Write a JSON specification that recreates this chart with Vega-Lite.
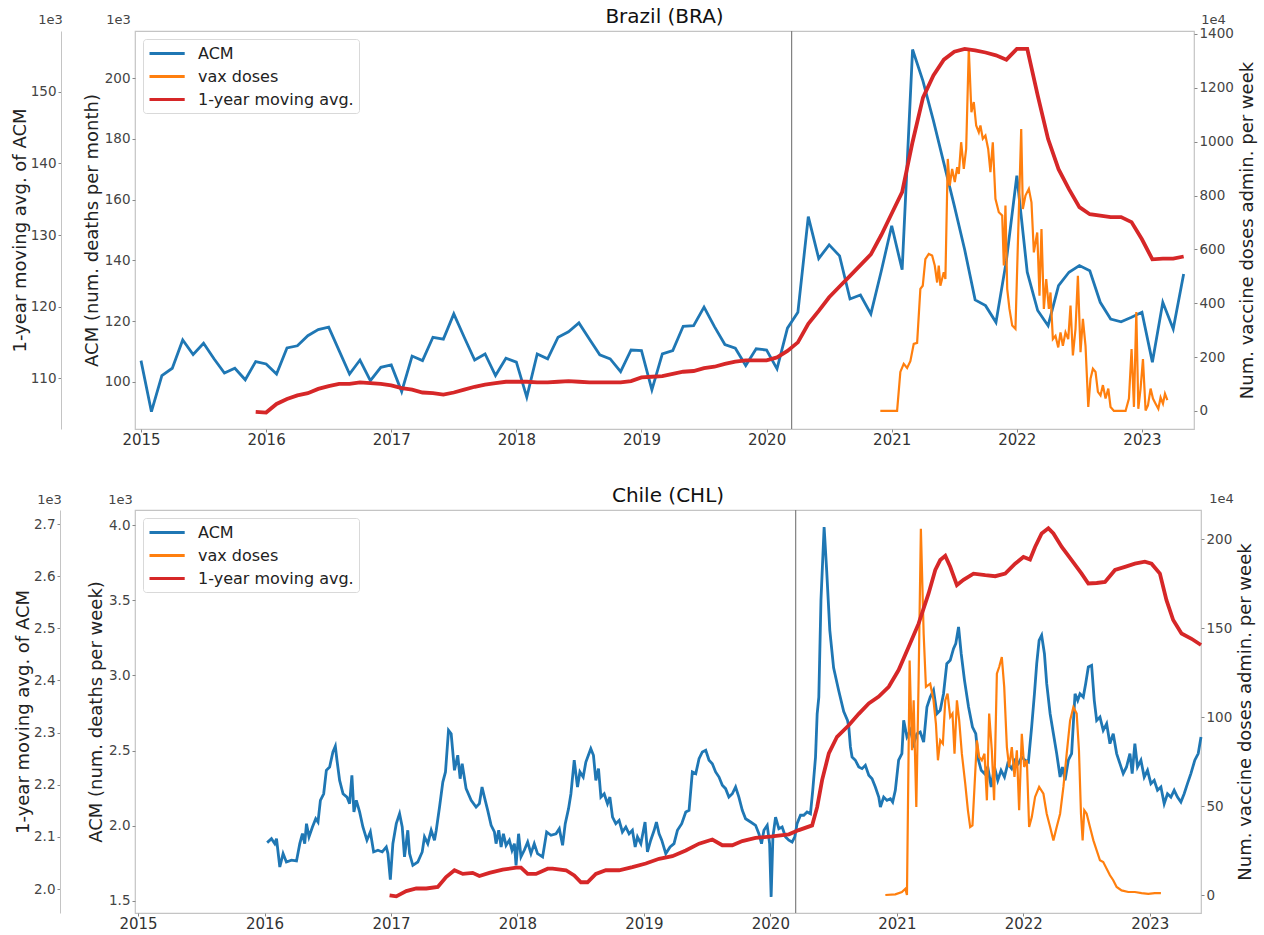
{
  "$schema": "https://vega.github.io/schema/vega-lite/v6.json",
  "background": "white",
  "padding": {"left": 10, "top": 6, "right": 4, "bottom": 0},
  "config": {
    "font": "DejaVu Sans",
    "view": {"stroke": "#c4c4c4", "strokeWidth": 1.2},
    "axis": {"grid": false, "labelColor": "#444", "titleColor": "#222", "titleFontWeight": "normal", "tickColor": "#888", "tickSize": 3, "labelPadding": 2, "domainColor": "#c4c4c4", "labelFontSize": 13.5, "titleFontSize": 18, "labelFlush": false, "labelOverlap": false},
    "title": {"fontSize": 20, "fontWeight": "normal", "color": "#111", "offset": -14, "frame": "group"},
    "legend": {"orient": "top-left", "offset": 8, "padding": 5, "strokeColor": "#d9d9d9", "fillColor": "white", "cornerRadius": 3, "labelFontSize": 16, "labelColor": "#222", "symbolSize": 256, "symbolStrokeWidth": 3, "labelOffset": 31, "rowPadding": 5}
  },
  "datasets": {
    "bra_acm": [
      {"year": 2015, "value": 107.0}, {"year": 2015.0833, "value": 90.2}, {"year": 2015.1667, "value": 102.1}, {"year": 2015.25, "value": 104.5},
      {"year": 2015.3333, "value": 113.8}, {"year": 2015.4167, "value": 109.0}, {"year": 2015.5, "value": 112.7}, {"year": 2015.5833, "value": 107.6},
      {"year": 2015.6667, "value": 102.9}, {"year": 2015.75, "value": 104.5}, {"year": 2015.8333, "value": 100.7}, {"year": 2015.9167, "value": 106.7},
      {"year": 2016, "value": 105.9}, {"year": 2016.0833, "value": 102.6}, {"year": 2016.1667, "value": 111.2}, {"year": 2016.25, "value": 111.9},
      {"year": 2016.3333, "value": 115.2}, {"year": 2016.4167, "value": 117.2}, {"year": 2016.5, "value": 118.0}, {"year": 2016.5833, "value": 110.3},
      {"year": 2016.6667, "value": 102.6}, {"year": 2016.75, "value": 107.2}, {"year": 2016.8333, "value": 100.4}, {"year": 2016.9167, "value": 104.8},
      {"year": 2017, "value": 105.6}, {"year": 2017.0833, "value": 96.8}, {"year": 2017.1667, "value": 108.5}, {"year": 2017.25, "value": 107.0},
      {"year": 2017.3333, "value": 114.7}, {"year": 2017.4167, "value": 114.1}, {"year": 2017.5, "value": 122.4}, {"year": 2017.5833, "value": 114.7},
      {"year": 2017.6667, "value": 107.2}, {"year": 2017.75, "value": 109.2}, {"year": 2017.8333, "value": 102.1}, {"year": 2017.9167, "value": 107.8},
      {"year": 2018, "value": 106.5}, {"year": 2018.0833, "value": 95.0}, {"year": 2018.1667, "value": 109.2}, {"year": 2018.25, "value": 107.6},
      {"year": 2018.3333, "value": 114.7}, {"year": 2018.4167, "value": 116.5}, {"year": 2018.5, "value": 119.4}, {"year": 2018.5833, "value": 114.1},
      {"year": 2018.6667, "value": 108.9}, {"year": 2018.75, "value": 107.6}, {"year": 2018.8333, "value": 103.4}, {"year": 2018.9167, "value": 110.5},
      {"year": 2019, "value": 110.3}, {"year": 2019.0833, "value": 97.4}, {"year": 2019.1667, "value": 109.2}, {"year": 2019.25, "value": 110.3},
      {"year": 2019.3333, "value": 118.3}, {"year": 2019.4167, "value": 118.5}, {"year": 2019.5, "value": 124.6}, {"year": 2019.5833, "value": 118.2},
      {"year": 2019.6667, "value": 112.3}, {"year": 2019.75, "value": 111.1}, {"year": 2019.8333, "value": 105.4}, {"year": 2019.9167, "value": 110.9},
      {"year": 2020, "value": 110.5}, {"year": 2020.0833, "value": 104.3}, {"year": 2020.1667, "value": 117.7}, {"year": 2020.25, "value": 122.9},
      {"year": 2020.3333, "value": 154.4}, {"year": 2020.4167, "value": 140.6}, {"year": 2020.5, "value": 145.1}, {"year": 2020.5833, "value": 141.5},
      {"year": 2020.6667, "value": 127.3}, {"year": 2020.75, "value": 128.6}, {"year": 2020.8333, "value": 122.4}, {"year": 2020.9167, "value": 136.5},
      {"year": 2021, "value": 151.4}, {"year": 2021.0833, "value": 136.9}, {"year": 2021.1667, "value": 209.4}, {"year": 2021.25, "value": 199.0},
      {"year": 2021.3333, "value": 186.0}, {"year": 2021.4167, "value": 172.0}, {"year": 2021.5, "value": 158.0}, {"year": 2021.5833, "value": 143.5},
      {"year": 2021.6667, "value": 127.0}, {"year": 2021.75, "value": 125.1}, {"year": 2021.8333, "value": 119.6}, {"year": 2021.9167, "value": 140.0},
      {"year": 2022, "value": 167.9}, {"year": 2022.0833, "value": 136.1}, {"year": 2022.1667, "value": 123.5}, {"year": 2022.25, "value": 118.5},
      {"year": 2022.3333, "value": 131.7}, {"year": 2022.4167, "value": 136.1}, {"year": 2022.5, "value": 138.3}, {"year": 2022.5833, "value": 136.6},
      {"year": 2022.6667, "value": 126.2}, {"year": 2022.75, "value": 120.7}, {"year": 2022.8333, "value": 119.8}, {"year": 2022.9167, "value": 121.3},
      {"year": 2023, "value": 122.9}, {"year": 2023.0833, "value": 106.5}, {"year": 2023.1667, "value": 126.2}, {"year": 2023.25, "value": 117.4},
      {"year": 2023.3333, "value": 135.5}
    ],
    "bra_avg": [
      {"year": 2015.9167, "value": 105.3}, {"year": 2016, "value": 105.2}, {"year": 2016.0833, "value": 106.4}, {"year": 2016.1667, "value": 107.1},
      {"year": 2016.25, "value": 107.6}, {"year": 2016.3333, "value": 107.9}, {"year": 2016.4167, "value": 108.5}, {"year": 2016.5, "value": 108.9},
      {"year": 2016.5833, "value": 109.2}, {"year": 2016.6667, "value": 109.2}, {"year": 2016.75, "value": 109.4}, {"year": 2016.8333, "value": 109.3},
      {"year": 2016.9167, "value": 109.2}, {"year": 2017, "value": 109.0}, {"year": 2017.0833, "value": 108.6}, {"year": 2017.1667, "value": 108.4},
      {"year": 2017.25, "value": 108.0}, {"year": 2017.3333, "value": 107.9}, {"year": 2017.4167, "value": 107.7}, {"year": 2017.5, "value": 108.0},
      {"year": 2017.5833, "value": 108.4}, {"year": 2017.6667, "value": 108.8}, {"year": 2017.75, "value": 109.1}, {"year": 2017.8333, "value": 109.3},
      {"year": 2017.9167, "value": 109.5}, {"year": 2018, "value": 109.5}, {"year": 2018.0833, "value": 109.5}, {"year": 2018.1667, "value": 109.4},
      {"year": 2018.25, "value": 109.4}, {"year": 2018.3333, "value": 109.5}, {"year": 2018.4167, "value": 109.6}, {"year": 2018.5, "value": 109.5},
      {"year": 2018.5833, "value": 109.4}, {"year": 2018.6667, "value": 109.4}, {"year": 2018.75, "value": 109.4}, {"year": 2018.8333, "value": 109.4},
      {"year": 2018.9167, "value": 109.6}, {"year": 2019, "value": 110.1}, {"year": 2019.0833, "value": 110.2}, {"year": 2019.1667, "value": 110.3},
      {"year": 2019.25, "value": 110.6}, {"year": 2019.3333, "value": 110.9}, {"year": 2019.4167, "value": 111.0}, {"year": 2019.5, "value": 111.4},
      {"year": 2019.5833, "value": 111.6}, {"year": 2019.6667, "value": 112.0}, {"year": 2019.75, "value": 112.3}, {"year": 2019.8333, "value": 112.5},
      {"year": 2019.9167, "value": 112.5}, {"year": 2020, "value": 112.5}, {"year": 2020.0833, "value": 112.9}, {"year": 2020.1667, "value": 113.8},
      {"year": 2020.25, "value": 115.0}, {"year": 2020.3333, "value": 117.6}, {"year": 2020.4167, "value": 119.4}, {"year": 2020.5, "value": 121.3},
      {"year": 2020.5833, "value": 122.8}, {"year": 2020.6667, "value": 124.3}, {"year": 2020.75, "value": 125.8}, {"year": 2020.8333, "value": 127.3},
      {"year": 2020.9167, "value": 130.0}, {"year": 2021, "value": 133.0}, {"year": 2021.0833, "value": 136.0}, {"year": 2021.1667, "value": 143.0},
      {"year": 2021.25, "value": 149.2}, {"year": 2021.3333, "value": 152.3}, {"year": 2021.4167, "value": 154.5}, {"year": 2021.5, "value": 155.6},
      {"year": 2021.5833, "value": 156.0}, {"year": 2021.6667, "value": 155.8}, {"year": 2021.75, "value": 155.5}, {"year": 2021.8333, "value": 155.1},
      {"year": 2021.9167, "value": 154.5}, {"year": 2022, "value": 156.0}, {"year": 2022.0833, "value": 156.0}, {"year": 2022.1667, "value": 149.5},
      {"year": 2022.25, "value": 143.4}, {"year": 2022.3333, "value": 139.2}, {"year": 2022.4167, "value": 136.4}, {"year": 2022.5, "value": 133.9},
      {"year": 2022.5833, "value": 132.9}, {"year": 2022.6667, "value": 132.7}, {"year": 2022.75, "value": 132.5}, {"year": 2022.8333, "value": 132.5},
      {"year": 2022.9167, "value": 131.8}, {"year": 2023, "value": 129.4}, {"year": 2023.0833, "value": 126.6}, {"year": 2023.1667, "value": 126.7},
      {"year": 2023.25, "value": 126.7}, {"year": 2023.3333, "value": 127.0}
    ],
    "bra_vax": [
      {"year": 2020.909, "value": 0}, {"year": 2021.043, "value": 0}, {"year": 2021.069, "value": 145}, {"year": 2021.096, "value": 175},
      {"year": 2021.123, "value": 160}, {"year": 2021.149, "value": 185}, {"year": 2021.176, "value": 249}, {"year": 2021.203, "value": 253},
      {"year": 2021.229, "value": 453}, {"year": 2021.248, "value": 465}, {"year": 2021.269, "value": 564}, {"year": 2021.296, "value": 583},
      {"year": 2021.323, "value": 577}, {"year": 2021.344, "value": 540}, {"year": 2021.363, "value": 477}, {"year": 2021.376, "value": 540},
      {"year": 2021.389, "value": 465}, {"year": 2021.416, "value": 515}, {"year": 2021.429, "value": 490}, {"year": 2021.448, "value": 936},
      {"year": 2021.464, "value": 837}, {"year": 2021.483, "value": 899}, {"year": 2021.504, "value": 850}, {"year": 2021.523, "value": 905},
      {"year": 2021.536, "value": 880}, {"year": 2021.555, "value": 998}, {"year": 2021.576, "value": 899}, {"year": 2021.595, "value": 973},
      {"year": 2021.616, "value": 1344}, {"year": 2021.637, "value": 1109}, {"year": 2021.656, "value": 1147}, {"year": 2021.675, "value": 1060},
      {"year": 2021.696, "value": 1035}, {"year": 2021.709, "value": 1060}, {"year": 2021.728, "value": 1011}, {"year": 2021.749, "value": 1023},
      {"year": 2021.771, "value": 973}, {"year": 2021.789, "value": 887}, {"year": 2021.808, "value": 998}, {"year": 2021.829, "value": 788},
      {"year": 2021.856, "value": 738}, {"year": 2021.883, "value": 726}, {"year": 2021.896, "value": 540}, {"year": 2021.909, "value": 763},
      {"year": 2021.923, "value": 453}, {"year": 2021.941, "value": 379}, {"year": 2021.963, "value": 317}, {"year": 2021.989, "value": 305},
      {"year": 2022.011, "value": 663}, {"year": 2022.035, "value": 1047}, {"year": 2022.048, "value": 750}, {"year": 2022.069, "value": 800},
      {"year": 2022.096, "value": 825}, {"year": 2022.117, "value": 775}, {"year": 2022.136, "value": 589}, {"year": 2022.163, "value": 663},
      {"year": 2022.181, "value": 428}, {"year": 2022.197, "value": 676}, {"year": 2022.216, "value": 379}, {"year": 2022.235, "value": 490},
      {"year": 2022.256, "value": 379}, {"year": 2022.269, "value": 440}, {"year": 2022.288, "value": 267}, {"year": 2022.309, "value": 279},
      {"year": 2022.331, "value": 236}, {"year": 2022.349, "value": 292}, {"year": 2022.368, "value": 242}, {"year": 2022.389, "value": 292},
      {"year": 2022.411, "value": 267}, {"year": 2022.429, "value": 391}, {"year": 2022.448, "value": 206}, {"year": 2022.469, "value": 305},
      {"year": 2022.488, "value": 502}, {"year": 2022.509, "value": 218}, {"year": 2022.528, "value": 342}, {"year": 2022.549, "value": 242},
      {"year": 2022.571, "value": 15}, {"year": 2022.589, "value": 120}, {"year": 2022.608, "value": 157}, {"year": 2022.629, "value": 145},
      {"year": 2022.648, "value": 71}, {"year": 2022.669, "value": 58}, {"year": 2022.688, "value": 96}, {"year": 2022.709, "value": 46},
      {"year": 2022.731, "value": 83}, {"year": 2022.749, "value": 15}, {"year": 2022.776, "value": 0}, {"year": 2022.869, "value": 0},
      {"year": 2022.896, "value": 46}, {"year": 2022.917, "value": 230}, {"year": 2022.936, "value": 15}, {"year": 2022.955, "value": 367},
      {"year": 2022.971, "value": 8}, {"year": 2022.989, "value": 83}, {"year": 2023.008, "value": 193}, {"year": 2023.029, "value": 2},
      {"year": 2023.048, "value": 21}, {"year": 2023.069, "value": 83}, {"year": 2023.088, "value": 46}, {"year": 2023.109, "value": 27},
      {"year": 2023.131, "value": 8}, {"year": 2023.149, "value": 50}, {"year": 2023.168, "value": 27}, {"year": 2023.184, "value": 64},
      {"year": 2023.203, "value": 40}
    ],
    "chl_acm": [
      {"year": 2016.021, "value": 1.888}, {"year": 2016.055, "value": 1.914}, {"year": 2016.081, "value": 1.881}, {"year": 2016.095, "value": 1.914},
      {"year": 2016.121, "value": 1.726}, {"year": 2016.147, "value": 1.815}, {"year": 2016.173, "value": 1.759}, {"year": 2016.213, "value": 1.771},
      {"year": 2016.253, "value": 1.766}, {"year": 2016.279, "value": 1.881}, {"year": 2016.3, "value": 1.948}, {"year": 2016.318, "value": 1.881},
      {"year": 2016.332, "value": 2.014}, {"year": 2016.352, "value": 1.926}, {"year": 2016.379, "value": 1.992}, {"year": 2016.405, "value": 2.047},
      {"year": 2016.423, "value": 2.025}, {"year": 2016.442, "value": 2.169}, {"year": 2016.468, "value": 2.213}, {"year": 2016.489, "value": 2.369},
      {"year": 2016.515, "value": 2.391}, {"year": 2016.541, "value": 2.491}, {"year": 2016.56, "value": 2.529}, {"year": 2016.573, "value": 2.436},
      {"year": 2016.594, "value": 2.302}, {"year": 2016.621, "value": 2.213}, {"year": 2016.652, "value": 2.191}, {"year": 2016.673, "value": 2.147},
      {"year": 2016.691, "value": 2.336}, {"year": 2016.707, "value": 2.092}, {"year": 2016.726, "value": 2.169}, {"year": 2016.752, "value": 2.092},
      {"year": 2016.778, "value": 1.992}, {"year": 2016.81, "value": 1.904}, {"year": 2016.837, "value": 1.959}, {"year": 2016.863, "value": 1.826},
      {"year": 2016.897, "value": 1.837}, {"year": 2016.931, "value": 1.826}, {"year": 2016.963, "value": 1.859}, {"year": 2016.976, "value": 1.815},
      {"year": 2016.995, "value": 1.642}, {"year": 2017.015, "value": 1.881}, {"year": 2017.042, "value": 2.014}, {"year": 2017.068, "value": 2.08},
      {"year": 2017.089, "value": 1.992}, {"year": 2017.107, "value": 1.793}, {"year": 2017.133, "value": 1.97}, {"year": 2017.147, "value": 1.815},
      {"year": 2017.173, "value": 1.737}, {"year": 2017.212, "value": 1.759}, {"year": 2017.247, "value": 1.826}, {"year": 2017.265, "value": 1.926},
      {"year": 2017.291, "value": 1.881}, {"year": 2017.318, "value": 1.97}, {"year": 2017.344, "value": 1.904}, {"year": 2017.358, "value": 1.97},
      {"year": 2017.384, "value": 2.125}, {"year": 2017.41, "value": 2.291}, {"year": 2017.431, "value": 2.358}, {"year": 2017.455, "value": 2.635},
      {"year": 2017.476, "value": 2.612}, {"year": 2017.502, "value": 2.369}, {"year": 2017.528, "value": 2.469}, {"year": 2017.547, "value": 2.313},
      {"year": 2017.563, "value": 2.413}, {"year": 2017.594, "value": 2.247}, {"year": 2017.634, "value": 2.169}, {"year": 2017.673, "value": 2.125},
      {"year": 2017.699, "value": 2.147}, {"year": 2017.72, "value": 2.258}, {"year": 2017.739, "value": 2.191}, {"year": 2017.765, "value": 2.103},
      {"year": 2017.792, "value": 2.003}, {"year": 2017.818, "value": 1.959}, {"year": 2017.831, "value": 1.881}, {"year": 2017.852, "value": 1.97},
      {"year": 2017.871, "value": 1.859}, {"year": 2017.889, "value": 1.947}, {"year": 2017.91, "value": 1.87}, {"year": 2017.936, "value": 1.904},
      {"year": 2017.957, "value": 1.837}, {"year": 2017.976, "value": 1.881}, {"year": 2017.989, "value": 1.737}, {"year": 2018.009, "value": 1.947},
      {"year": 2018.028, "value": 1.793}, {"year": 2018.054, "value": 1.837}, {"year": 2018.081, "value": 1.892}, {"year": 2018.107, "value": 1.815},
      {"year": 2018.133, "value": 1.881}, {"year": 2018.159, "value": 1.815}, {"year": 2018.199, "value": 1.793}, {"year": 2018.231, "value": 1.959},
      {"year": 2018.265, "value": 1.937}, {"year": 2018.305, "value": 1.947}, {"year": 2018.331, "value": 1.981}, {"year": 2018.357, "value": 1.87},
      {"year": 2018.378, "value": 2.014}, {"year": 2018.404, "value": 2.114}, {"year": 2018.423, "value": 2.213}, {"year": 2018.449, "value": 2.436},
      {"year": 2018.475, "value": 2.258}, {"year": 2018.494, "value": 2.358}, {"year": 2018.52, "value": 2.324}, {"year": 2018.541, "value": 2.424},
      {"year": 2018.58, "value": 2.513}, {"year": 2018.601, "value": 2.469}, {"year": 2018.62, "value": 2.302}, {"year": 2018.641, "value": 2.38},
      {"year": 2018.66, "value": 2.191}, {"year": 2018.686, "value": 2.213}, {"year": 2018.712, "value": 2.147}, {"year": 2018.731, "value": 2.191},
      {"year": 2018.752, "value": 2.058}, {"year": 2018.778, "value": 2.014}, {"year": 2018.804, "value": 2.036}, {"year": 2018.83, "value": 1.959},
      {"year": 2018.857, "value": 1.992}, {"year": 2018.883, "value": 1.947}, {"year": 2018.909, "value": 1.97}, {"year": 2018.931, "value": 1.859},
      {"year": 2018.949, "value": 1.926}, {"year": 2018.976, "value": 1.881}, {"year": 2019.009, "value": 2.025}, {"year": 2019.028, "value": 1.826},
      {"year": 2019.054, "value": 1.904}, {"year": 2019.081, "value": 1.97}, {"year": 2019.099, "value": 2.025}, {"year": 2019.12, "value": 1.947},
      {"year": 2019.141, "value": 1.904}, {"year": 2019.173, "value": 1.815}, {"year": 2019.207, "value": 1.859}, {"year": 2019.238, "value": 1.881},
      {"year": 2019.265, "value": 1.97}, {"year": 2019.299, "value": 2.014}, {"year": 2019.331, "value": 2.092}, {"year": 2019.357, "value": 2.103},
      {"year": 2019.383, "value": 2.358}, {"year": 2019.41, "value": 2.347}, {"year": 2019.436, "value": 2.446}, {"year": 2019.462, "value": 2.491},
      {"year": 2019.489, "value": 2.502}, {"year": 2019.515, "value": 2.436}, {"year": 2019.541, "value": 2.413}, {"year": 2019.567, "value": 2.358},
      {"year": 2019.594, "value": 2.324}, {"year": 2019.62, "value": 2.269}, {"year": 2019.646, "value": 2.247}, {"year": 2019.672, "value": 2.191},
      {"year": 2019.699, "value": 2.213}, {"year": 2019.725, "value": 2.258}, {"year": 2019.751, "value": 2.191}, {"year": 2019.778, "value": 2.103},
      {"year": 2019.804, "value": 2.047}, {"year": 2019.844, "value": 2.025}, {"year": 2019.883, "value": 2.003}, {"year": 2019.909, "value": 1.947},
      {"year": 2019.93, "value": 1.881}, {"year": 2019.949, "value": 1.97}, {"year": 2019.975, "value": 2.003}, {"year": 2019.994, "value": 1.881},
      {"year": 2020.006, "value": 1.527}, {"year": 2020.02, "value": 1.926}, {"year": 2020.041, "value": 2.058}, {"year": 2020.067, "value": 1.981},
      {"year": 2020.093, "value": 1.992}, {"year": 2020.12, "value": 1.926}, {"year": 2020.146, "value": 1.904}, {"year": 2020.172, "value": 1.892},
      {"year": 2020.193, "value": 1.926}, {"year": 2020.211, "value": 2.014}, {"year": 2020.238, "value": 2.07}, {"year": 2020.264, "value": 2.07},
      {"year": 2020.29, "value": 2.092}, {"year": 2020.317, "value": 2.08}, {"year": 2020.335, "value": 2.236}, {"year": 2020.357, "value": 2.457},
      {"year": 2020.37, "value": 2.745}, {"year": 2020.383, "value": 2.856}, {"year": 2020.4, "value": 3.5}, {"year": 2020.425, "value": 3.987},
      {"year": 2020.445, "value": 3.7}, {"year": 2020.47, "value": 3.3}, {"year": 2020.5, "value": 3.05}, {"year": 2020.54, "value": 2.9},
      {"year": 2020.58, "value": 2.76}, {"year": 2020.61, "value": 2.7}, {"year": 2020.62, "value": 2.657}, {"year": 2020.633, "value": 2.524},
      {"year": 2020.646, "value": 2.457}, {"year": 2020.672, "value": 2.436}, {"year": 2020.699, "value": 2.391}, {"year": 2020.725, "value": 2.38},
      {"year": 2020.751, "value": 2.402}, {"year": 2020.778, "value": 2.336}, {"year": 2020.804, "value": 2.313}, {"year": 2020.83, "value": 2.258},
      {"year": 2020.857, "value": 2.191}, {"year": 2020.87, "value": 2.125}, {"year": 2020.896, "value": 2.191}, {"year": 2020.922, "value": 2.169},
      {"year": 2020.949, "value": 2.18}, {"year": 2020.967, "value": 2.158}, {"year": 2020.988, "value": 2.236}, {"year": 2021.014, "value": 2.436},
      {"year": 2021.04, "value": 2.48}, {"year": 2021.054, "value": 2.701}, {"year": 2021.08, "value": 2.591}, {"year": 2021.107, "value": 2.635},
      {"year": 2021.133, "value": 2.546}, {"year": 2021.159, "value": 2.612}, {"year": 2021.185, "value": 2.624}, {"year": 2021.212, "value": 2.557},
      {"year": 2021.238, "value": 2.79}, {"year": 2021.264, "value": 2.856}, {"year": 2021.29, "value": 2.901}, {"year": 2021.317, "value": 2.745},
      {"year": 2021.343, "value": 2.768}, {"year": 2021.369, "value": 2.878}, {"year": 2021.395, "value": 3.078}, {"year": 2021.422, "value": 3.1},
      {"year": 2021.448, "value": 3.178}, {"year": 2021.466, "value": 3.211}, {"year": 2021.488, "value": 3.322}, {"year": 2021.509, "value": 3.144},
      {"year": 2021.535, "value": 2.967}, {"year": 2021.567, "value": 2.79}, {"year": 2021.598, "value": 2.657}, {"year": 2021.624, "value": 2.612},
      {"year": 2021.646, "value": 2.436}, {"year": 2021.667, "value": 2.369}, {"year": 2021.693, "value": 2.347}, {"year": 2021.719, "value": 2.391},
      {"year": 2021.746, "value": 2.258}, {"year": 2021.772, "value": 2.391}, {"year": 2021.798, "value": 2.302}, {"year": 2021.824, "value": 2.369},
      {"year": 2021.851, "value": 2.324}, {"year": 2021.877, "value": 2.413}, {"year": 2021.908, "value": 2.38}, {"year": 2021.935, "value": 2.436},
      {"year": 2021.961, "value": 2.413}, {"year": 2021.987, "value": 2.457}, {"year": 2022.014, "value": 2.436}, {"year": 2022.04, "value": 2.424},
      {"year": 2022.066, "value": 2.657}, {"year": 2022.088, "value": 2.878}, {"year": 2022.106, "value": 3.078}, {"year": 2022.125, "value": 3.233},
      {"year": 2022.145, "value": 3.267}, {"year": 2022.167, "value": 3.144}, {"year": 2022.185, "value": 2.945}, {"year": 2022.212, "value": 2.745},
      {"year": 2022.238, "value": 2.612}, {"year": 2022.264, "value": 2.48}, {"year": 2022.291, "value": 2.324}, {"year": 2022.309, "value": 2.391},
      {"year": 2022.33, "value": 2.302}, {"year": 2022.356, "value": 2.436}, {"year": 2022.382, "value": 2.48}, {"year": 2022.409, "value": 2.878},
      {"year": 2022.43, "value": 2.834}, {"year": 2022.448, "value": 2.878}, {"year": 2022.474, "value": 2.856}, {"year": 2022.493, "value": 2.945},
      {"year": 2022.514, "value": 3.056}, {"year": 2022.54, "value": 3.067}, {"year": 2022.561, "value": 2.834}, {"year": 2022.58, "value": 2.701},
      {"year": 2022.606, "value": 2.723}, {"year": 2022.632, "value": 2.635}, {"year": 2022.659, "value": 2.679}, {"year": 2022.685, "value": 2.546},
      {"year": 2022.711, "value": 2.612}, {"year": 2022.738, "value": 2.48}, {"year": 2022.764, "value": 2.413}, {"year": 2022.79, "value": 2.347},
      {"year": 2022.816, "value": 2.391}, {"year": 2022.843, "value": 2.48}, {"year": 2022.861, "value": 2.347}, {"year": 2022.882, "value": 2.546},
      {"year": 2022.903, "value": 2.391}, {"year": 2022.93, "value": 2.436}, {"year": 2022.956, "value": 2.324}, {"year": 2022.982, "value": 2.369},
      {"year": 2023.009, "value": 2.28}, {"year": 2023.035, "value": 2.302}, {"year": 2023.061, "value": 2.236}, {"year": 2023.088, "value": 2.258},
      {"year": 2023.114, "value": 2.147}, {"year": 2023.14, "value": 2.213}, {"year": 2023.167, "value": 2.191}, {"year": 2023.193, "value": 2.236},
      {"year": 2023.219, "value": 2.191}, {"year": 2023.246, "value": 2.158}, {"year": 2023.272, "value": 2.213}, {"year": 2023.298, "value": 2.28},
      {"year": 2023.325, "value": 2.347}, {"year": 2023.356, "value": 2.436}, {"year": 2023.383, "value": 2.48}, {"year": 2023.405, "value": 2.591}
    ],
    "chl_avg": [
      {"year": 2016.989, "value": 1.988}, {"year": 2017.042, "value": 1.986}, {"year": 2017.121, "value": 1.996}, {"year": 2017.2, "value": 2.001},
      {"year": 2017.279, "value": 2.001}, {"year": 2017.37, "value": 2.004}, {"year": 2017.436, "value": 2.023}, {"year": 2017.502, "value": 2.036},
      {"year": 2017.568, "value": 2.029}, {"year": 2017.646, "value": 2.031}, {"year": 2017.699, "value": 2.025}, {"year": 2017.778, "value": 2.031},
      {"year": 2017.883, "value": 2.037}, {"year": 2017.989, "value": 2.041}, {"year": 2018.028, "value": 2.041}, {"year": 2018.081, "value": 2.029},
      {"year": 2018.147, "value": 2.029}, {"year": 2018.239, "value": 2.039}, {"year": 2018.278, "value": 2.039}, {"year": 2018.384, "value": 2.036},
      {"year": 2018.449, "value": 2.026}, {"year": 2018.502, "value": 2.013}, {"year": 2018.554, "value": 2.013}, {"year": 2018.62, "value": 2.029},
      {"year": 2018.699, "value": 2.036}, {"year": 2018.804, "value": 2.036}, {"year": 2018.909, "value": 2.042}, {"year": 2019.015, "value": 2.049},
      {"year": 2019.12, "value": 2.058}, {"year": 2019.225, "value": 2.063}, {"year": 2019.331, "value": 2.074}, {"year": 2019.436, "value": 2.087},
      {"year": 2019.541, "value": 2.095}, {"year": 2019.62, "value": 2.084}, {"year": 2019.699, "value": 2.084}, {"year": 2019.778, "value": 2.092},
      {"year": 2019.883, "value": 2.098}, {"year": 2020.014, "value": 2.101}, {"year": 2020.146, "value": 2.105}, {"year": 2020.225, "value": 2.113},
      {"year": 2020.33, "value": 2.122}, {"year": 2020.37, "value": 2.157}, {"year": 2020.409, "value": 2.209}, {"year": 2020.462, "value": 2.26},
      {"year": 2020.527, "value": 2.292}, {"year": 2020.62, "value": 2.314}, {"year": 2020.699, "value": 2.336}, {"year": 2020.778, "value": 2.356},
      {"year": 2020.857, "value": 2.369}, {"year": 2020.936, "value": 2.388}, {"year": 2021.014, "value": 2.42}, {"year": 2021.093, "value": 2.464},
      {"year": 2021.172, "value": 2.509}, {"year": 2021.251, "value": 2.567}, {"year": 2021.304, "value": 2.612}, {"year": 2021.343, "value": 2.631},
      {"year": 2021.383, "value": 2.639}, {"year": 2021.422, "value": 2.618}, {"year": 2021.475, "value": 2.583}, {"year": 2021.527, "value": 2.593},
      {"year": 2021.606, "value": 2.605}, {"year": 2021.699, "value": 2.602}, {"year": 2021.778, "value": 2.6}, {"year": 2021.857, "value": 2.605},
      {"year": 2021.935, "value": 2.624}, {"year": 2022.001, "value": 2.637}, {"year": 2022.053, "value": 2.632}, {"year": 2022.093, "value": 2.656},
      {"year": 2022.145, "value": 2.682}, {"year": 2022.198, "value": 2.692}, {"year": 2022.238, "value": 2.682}, {"year": 2022.304, "value": 2.656},
      {"year": 2022.382, "value": 2.631}, {"year": 2022.461, "value": 2.605}, {"year": 2022.514, "value": 2.586}, {"year": 2022.58, "value": 2.587},
      {"year": 2022.646, "value": 2.589}, {"year": 2022.725, "value": 2.612}, {"year": 2022.804, "value": 2.618}, {"year": 2022.882, "value": 2.624},
      {"year": 2022.961, "value": 2.628}, {"year": 2023.014, "value": 2.624}, {"year": 2023.08, "value": 2.605}, {"year": 2023.132, "value": 2.554},
      {"year": 2023.185, "value": 2.516}, {"year": 2023.251, "value": 2.49}, {"year": 2023.33, "value": 2.48}, {"year": 2023.405, "value": 2.468}
    ],
    "chl_vax": [
      {"year": 2020.909, "value": 0}, {"year": 2020.988, "value": 0.4}, {"year": 2021.04, "value": 1.7}, {"year": 2021.067, "value": 3.5},
      {"year": 2021.08, "value": 0}, {"year": 2021.101, "value": 131.8}, {"year": 2021.12, "value": 81.3}, {"year": 2021.133, "value": 109.4},
      {"year": 2021.154, "value": 49.4}, {"year": 2021.172, "value": 120.6}, {"year": 2021.19, "value": 205.8}, {"year": 2021.212, "value": 146.8},
      {"year": 2021.23, "value": 116.9}, {"year": 2021.264, "value": 118.7}, {"year": 2021.29, "value": 109.4}, {"year": 2021.309, "value": 96.2},
      {"year": 2021.325, "value": 75.7}, {"year": 2021.343, "value": 86.9}, {"year": 2021.364, "value": 85}, {"year": 2021.383, "value": 109.4},
      {"year": 2021.401, "value": 113.1}, {"year": 2021.422, "value": 100}, {"year": 2021.44, "value": 101.9}, {"year": 2021.456, "value": 79.4},
      {"year": 2021.475, "value": 109.4}, {"year": 2021.493, "value": 98.1}, {"year": 2021.514, "value": 79.4}, {"year": 2021.541, "value": 62.5},
      {"year": 2021.562, "value": 47.6}, {"year": 2021.58, "value": 38.2}, {"year": 2021.598, "value": 39.1}, {"year": 2021.614, "value": 60.7},
      {"year": 2021.633, "value": 86.9}, {"year": 2021.651, "value": 77.5}, {"year": 2021.672, "value": 75.7}, {"year": 2021.693, "value": 79.4},
      {"year": 2021.712, "value": 53.2}, {"year": 2021.73, "value": 101.9}, {"year": 2021.751, "value": 81.3}, {"year": 2021.769, "value": 53.2},
      {"year": 2021.791, "value": 124.3}, {"year": 2021.809, "value": 128.1}, {"year": 2021.83, "value": 133.7}, {"year": 2021.849, "value": 116.9},
      {"year": 2021.87, "value": 83.1}, {"year": 2021.888, "value": 71.9}, {"year": 2021.909, "value": 83.1}, {"year": 2021.93, "value": 66.3},
      {"year": 2021.949, "value": 81.3}, {"year": 2021.967, "value": 47.6}, {"year": 2021.988, "value": 90.6}, {"year": 2022.007, "value": 71.9},
      {"year": 2022.028, "value": 75.7}, {"year": 2022.046, "value": 38.2}, {"year": 2022.067, "value": 43.8}, {"year": 2022.093, "value": 55.1},
      {"year": 2022.125, "value": 60.7}, {"year": 2022.159, "value": 56.9}, {"year": 2022.185, "value": 45.7}, {"year": 2022.212, "value": 38.2},
      {"year": 2022.238, "value": 30.7}, {"year": 2022.264, "value": 38.2}, {"year": 2022.291, "value": 45.7}, {"year": 2022.317, "value": 60.7},
      {"year": 2022.343, "value": 79.4}, {"year": 2022.37, "value": 98.1}, {"year": 2022.396, "value": 105.6}, {"year": 2022.422, "value": 101.9},
      {"year": 2022.44, "value": 81.3}, {"year": 2022.456, "value": 45.7}, {"year": 2022.469, "value": 30.7}, {"year": 2022.482, "value": 47.6},
      {"year": 2022.501, "value": 45.7}, {"year": 2022.527, "value": 38.2}, {"year": 2022.554, "value": 30.7}, {"year": 2022.58, "value": 25.1},
      {"year": 2022.606, "value": 19.5}, {"year": 2022.632, "value": 18.5}, {"year": 2022.659, "value": 14.8}, {"year": 2022.685, "value": 11.1},
      {"year": 2022.711, "value": 8.3}, {"year": 2022.738, "value": 4.5}, {"year": 2022.777, "value": 2.6}, {"year": 2022.83, "value": 1.7},
      {"year": 2022.882, "value": 1.7}, {"year": 2022.935, "value": 1.1}, {"year": 2022.988, "value": 0.7}, {"year": 2023.04, "value": 1.1},
      {"year": 2023.088, "value": 1.1}
    ]
  },
  "vconcat": [
    {
      "title": "Brazil (BRA)",
      "width": 1059,
      "height": 398,
      "encoding": {
        "x": {"field": "year", "type": "quantitative", "scale": {"domain": [2014.952, 2023.416], "nice": false, "zero": false},
              "axis": {"title": null, "values": [2015, 2016, 2017, 2018, 2019, 2020, 2021, 2022, 2023], "format": "d", "labelFontSize": 15, "labelColor": "#333", "domain": false, "tickSize": 3, "labelPadding": 0}}
      },
      "layer": [
        {"data": {"values": [{"year": 2020.2}]}, "mark": {"type": "rule", "color": "#808080", "strokeWidth": 1.2}},
        {"data": {"name": "bra_acm"}, "mark": {"type": "line", "strokeWidth": 2.8},
         "encoding": {
           "y": {"field": "value", "type": "quantitative", "scale": {"domain": [84.5, 215.5], "nice": false, "zero": false},
                 "axis": {"title": "ACM (num. deaths per month)", "values": [100, 120, 140, 160, 180, 200], "domain": false, "titlePadding": 3}},
           "color": {"datum": "ACM", "scale": {"domain": ["ACM", "vax doses", "1-year moving avg."], "range": ["#1f77b4", "#ff7f0e", "#d62728"]},
                     "legend": {"title": null, "symbolType": "M-1,0H3.4"}}
         }},
        {"data": {"name": "bra_vax"}, "mark": {"type": "line", "strokeWidth": 2.2},
         "encoding": {
           "y": {"field": "value", "type": "quantitative", "scale": {"domain": [-67, 1411], "nice": false, "zero": false},
                 "axis": {"orient": "right", "title": "Num. vaccine doses admin. per week", "titleAngle": 270, "titleBaseline": "top", "format": "d", "values": [0, 200, 400, 600, 800, 1000, 1200, 1400], "domain": false, "titlePadding": 5}},
           "color": {"datum": "vax doses"}
         }},
        {"data": {"name": "bra_avg"}, "mark": {"type": "line", "strokeWidth": 3.8},
         "encoding": {
           "y": {"field": "value", "type": "quantitative", "scale": {"domain": [102.9, 158.5], "nice": false, "zero": false},
                 "axis": {"orient": "left", "offset": 74, "title": "1-year moving avg. of ACM", "values": [110, 120, 130, 140, 150], "domain": true, "titlePadding": 1}},
           "color": {"datum": "1-year moving avg."}
         }},
        {"data": {"name": "bra_acm"}, "mark": {"type": "line", "opacity": 0},
         "encoding": {"y": {"field": "value", "type": "quantitative", "scale": {"domain": [84.5, 215.5], "nice": false, "zero": false},
           "axis": {"orient": "left", "title": "1e3", "labels": false, "ticks": false, "domain": false, "titleAngle": 0, "titleX": -17, "titleY": -12, "titleAlign": "center", "titleBaseline": "middle", "titleFontSize": 13, "titleColor": "#444"}}}},
        {"data": {"name": "bra_vax"}, "mark": {"type": "line", "opacity": 0},
         "encoding": {"y": {"field": "value", "type": "quantitative", "scale": {"domain": [-67, 1411], "nice": false, "zero": false},
           "axis": {"orient": "right", "title": "1e4", "labels": false, "ticks": false, "domain": false, "titleAngle": 0, "titleX": 19, "titleY": -12, "titleAlign": "center", "titleBaseline": "middle", "titleFontSize": 13, "titleColor": "#444"}}}},
        {"data": {"name": "bra_avg"}, "mark": {"type": "line", "opacity": 0},
         "encoding": {"y": {"field": "value", "type": "quantitative", "scale": {"domain": [102.9, 158.5], "nice": false, "zero": false},
           "axis": {"orient": "left", "offset": 74, "title": "1e3", "labels": false, "ticks": false, "domain": false, "titleAngle": 0, "titleX": -11, "titleY": -12, "titleAlign": "center", "titleBaseline": "middle", "titleFontSize": 13, "titleColor": "#444"}}}}
      ],
      "resolve": {"scale": {"y": "independent"}}
    },
    {
      "title": "Chile (CHL)",
      "width": 1066,
      "height": 403,
      "encoding": {
        "x": {"field": "year", "type": "quantitative", "scale": {"domain": [2014.976, 2023.405], "nice": false, "zero": false},
              "axis": {"title": null, "values": [2015, 2016, 2017, 2018, 2019, 2020, 2021, 2022, 2023], "format": "d", "labelFontSize": 15, "labelColor": "#333", "domain": false, "tickSize": 3, "labelPadding": 0}}
      },
      "layer": [
        {"data": {"values": [{"year": 2020.2}]}, "mark": {"type": "rule", "color": "#808080", "strokeWidth": 1.2}},
        {"data": {"name": "chl_acm"}, "mark": {"type": "line", "strokeWidth": 2.8},
         "encoding": {
           "y": {"field": "value", "type": "quantitative", "scale": {"domain": [1.42, 4.1], "nice": false, "zero": false},
                 "axis": {"title": "ACM (num. deaths per week)", "values": [1.5, 2.0, 2.5, 3.0, 3.5, 4.0], "format": ".1f", "domain": false, "titlePadding": 3}},
           "color": {"datum": "ACM", "scale": {"domain": ["ACM", "vax doses", "1-year moving avg."], "range": ["#1f77b4", "#ff7f0e", "#d62728"]},
                     "legend": {"title": null, "symbolType": "M-1,0H3.4"}}
         }},
        {"data": {"name": "chl_vax"}, "mark": {"type": "line", "strokeWidth": 2.2},
         "encoding": {
           "y": {"field": "value", "type": "quantitative", "scale": {"domain": [-10.1, 216.3], "nice": false, "zero": false},
                 "axis": {"orient": "right", "title": "Num. vaccine doses admin. per week", "titleAngle": 270, "titleBaseline": "top", "format": "d", "values": [0, 50, 100, 150, 200], "domain": false, "titlePadding": 5}},
           "color": {"datum": "vax doses"}
         }},
        {"data": {"name": "chl_avg"}, "mark": {"type": "line", "strokeWidth": 3.8},
         "encoding": {
           "y": {"field": "value", "type": "quantitative", "scale": {"domain": [1.954, 2.727], "nice": false, "zero": false},
                 "axis": {"orient": "left", "offset": 75, "title": "1-year moving avg. of ACM", "values": [2.0, 2.1, 2.2, 2.3, 2.4, 2.5, 2.6, 2.7], "format": ".1f", "domain": true, "titlePadding": 1}},
           "color": {"datum": "1-year moving avg."}
         }},
        {"data": {"name": "chl_acm"}, "mark": {"type": "line", "opacity": 0},
         "encoding": {"y": {"field": "value", "type": "quantitative", "scale": {"domain": [1.42, 4.1], "nice": false, "zero": false},
           "axis": {"orient": "left", "title": "1e3", "labels": false, "ticks": false, "domain": false, "titleAngle": 0, "titleX": -15, "titleY": -11, "titleAlign": "center", "titleBaseline": "middle", "titleFontSize": 13, "titleColor": "#444"}}}},
        {"data": {"name": "chl_vax"}, "mark": {"type": "line", "opacity": 0},
         "encoding": {"y": {"field": "value", "type": "quantitative", "scale": {"domain": [-10.1, 216.3], "nice": false, "zero": false},
           "axis": {"orient": "right", "title": "1e4", "labels": false, "ticks": false, "domain": false, "titleAngle": 0, "titleX": 20, "titleY": -12, "titleAlign": "center", "titleBaseline": "middle", "titleFontSize": 13, "titleColor": "#444"}}}},
        {"data": {"name": "chl_avg"}, "mark": {"type": "line", "opacity": 0},
         "encoding": {"y": {"field": "value", "type": "quantitative", "scale": {"domain": [1.954, 2.727], "nice": false, "zero": false},
           "axis": {"orient": "left", "offset": 75, "title": "1e3", "labels": false, "ticks": false, "domain": false, "titleAngle": 0, "titleX": -11, "titleY": -11, "titleAlign": "center", "titleBaseline": "middle", "titleFontSize": 13, "titleColor": "#444"}}}}
      ],
      "resolve": {"scale": {"y": "independent"}}
    }
  ],
  "spacing": 37,
  "resolve": {"scale": {"color": "independent"}}
}
